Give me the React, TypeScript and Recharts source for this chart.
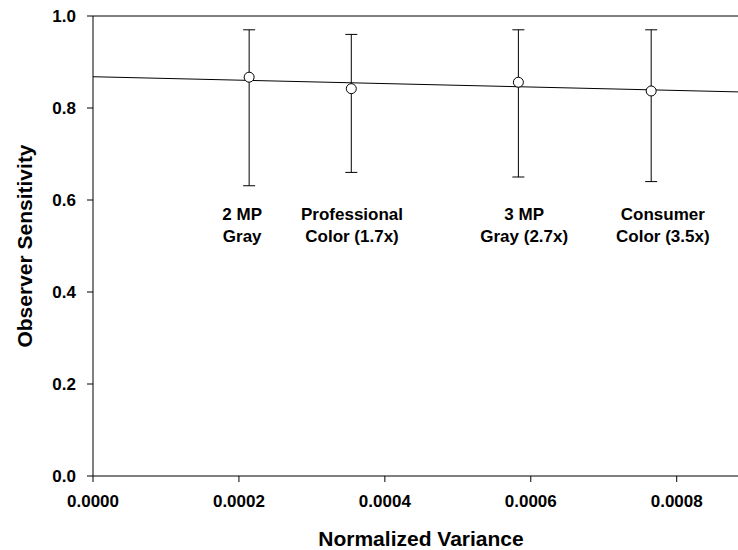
import React from "react";
import {
  ScatterChart,
  Scatter,
  XAxis,
  YAxis,
  ErrorBar,
  ReferenceLine,
  Label,
} from "recharts";

// display types, normalized variance vs observer sensitivity
const variance = [0.000214, 0.000354, 0.000583, 0.000765];
const sensitivity = [0.867, 0.842, 0.856, 0.837];
const upper = [0.97, 0.96, 0.97, 0.97];
const lower = [0.631, 0.66, 0.65, 0.64];

// annotation text, placed in data units
const labelLine1 = ["2 MP", "Professional", "3 MP", "Consumer"];
const labelLine2 = ["Gray", "Color (1.7x)", "Gray (2.7x)", "Color (3.5x)"];
const labelX = [0.0002045, 0.000355, 0.000591, 0.000781];
const labelY = [0.569, 0.569, 0.569, 0.569];

// linear fit end points
const fitX = [0, 0.000884];
const fitY = [0.868, 0.835];

const xTicks = [0, 0.0002, 0.0004, 0.0006, 0.0008];
const yTicks = [0, 0.2, 0.4, 0.6, 0.8, 1.0];

const points = variance.map((x, i) => ({
  x,
  y: sensitivity[i],
  err: [sensitivity[i] - lower[i], upper[i] - sensitivity[i]],
}));
const labels = labelX.map((x, i) => ({
  x,
  y: labelY[i],
  a: labelLine1[i],
  b: labelLine2[i],
}));
const fit = fitX.map((x, i) => ({ x, y: fitY[i] }));

const font = "Arial, 'Liberation Sans', Helvetica, sans-serif";
const tickStyle = { fill: "#000", fontSize: 17, fontWeight: 700, fontFamily: font };

export default function App() {
  return (
    <div style={{ position: "absolute", left: 0, top: 0 }}>
      <ScatterChart
        width={738}
        height={550}
        margin={{ top: 16, right: 0, bottom: 0, left: 0 }}
      >
        <XAxis
          type="number"
          dataKey="x"
          domain={[0, 0.000884]}
          allowDataOverflow
          ticks={xTicks}
          tickFormatter={(v: number) => v.toFixed(4)}
          tick={tickStyle}
          tickSize={6}
          tickMargin={13}
          height={74}
          stroke="#000"
          interval={0}
        >
          <Label
            content={() => (
              <text
                x={421}
                y={546}
                textAnchor="middle"
                fontSize={21}
                fontWeight={700}
                fontFamily={font}
                fill="#000"
              >
                Normalized Variance
              </text>
            )}
          />
        </XAxis>
        <YAxis
          type="number"
          dataKey="y"
          domain={[0, 1]}
          allowDataOverflow
          ticks={yTicks}
          tickFormatter={(v: number) => v.toFixed(1)}
          tick={tickStyle}
          tickSize={6}
          tickMargin={11}
          width={93}
          stroke="#000"
          interval={0}
        >
          <Label
            content={() => (
              <text
                x={24}
                y={246}
                transform="rotate(-90, 24, 246)"
                textAnchor="middle"
                dominantBaseline="central"
                fontSize={21}
                fontWeight={700}
                fontFamily={font}
                fill="#000"
              >
                Observer Sensitivity
              </text>
            )}
          />
        </YAxis>
        <ReferenceLine y={1} stroke="#000" strokeWidth={1} />
        <Scatter
          data={fit}
          line={{ stroke: "#000", strokeWidth: 1 }}
          lineType="joint"
          shape={() => <g />}
          isAnimationActive={false}
        />
        <Scatter
          data={points}
          isAnimationActive={false}
          shape={(p: any) => (
            <circle cx={p.cx} cy={p.cy} r={5} fill="#fff" stroke="#000" strokeWidth={1} />
          )}
        >
          <ErrorBar dataKey="err" direction="y" width={6} stroke="#000" strokeWidth={1} />
        </Scatter>
        <Scatter
          data={labels}
          isAnimationActive={false}
          shape={(p: any) => (
            <text
              x={p.cx}
              y={p.cy}
              textAnchor="middle"
              dominantBaseline="central"
              fontSize={17}
              fontWeight={700}
              fontFamily={font}
              fill="#000"
            >
              <tspan x={p.cx}>{p.payload.a}</tspan>
              <tspan x={p.cx} dy={22}>
                {p.payload.b}
              </tspan>
            </text>
          )}
        />
      </ScatterChart>
    </div>
  );
}
